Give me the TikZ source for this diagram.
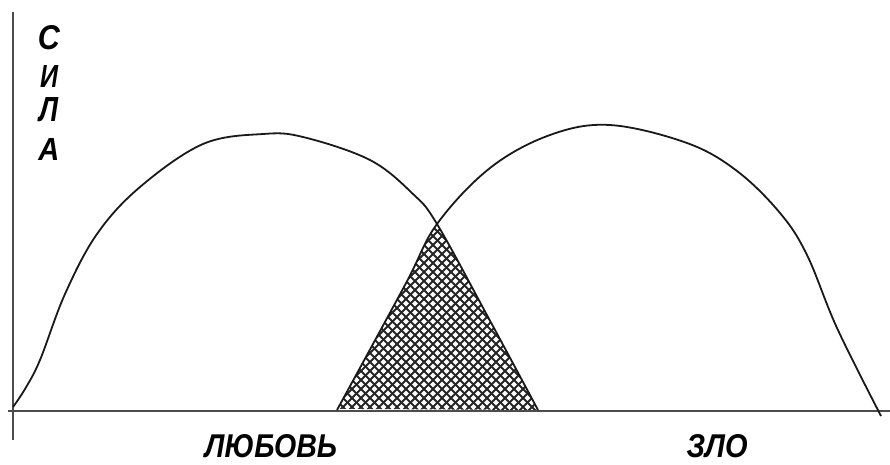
\documentclass[tikz,border=0pt]{standalone}
\usepackage{fontspec}
\setmainfont{Liberation Sans}
\usepackage{graphicx}
\begin{document}
\begin{tikzpicture}[x=1pt,y=-1pt,
  curve/.style={draw=black!90,line width=1.8pt,line join=round},
  axis/.style={draw=black!70,line width=2.2pt},
  hatch/.style={draw=black!85,line width=1.8pt},
  lbl/.style={inner sep=0pt,font=\bfseries\itshape}]
\useasboundingbox (0,0) rectangle (890,464);
\def\leftcurve{(13,407) (25,389) (40,360) (65,294) (97,234) (140,187) (203,144) (263,134) (303,137) (370,160) (413,194) (437,224) (488,317) (538,410)}
\def\rightcurve{(337,410) (405,285) (437,224) (490,168) (550,135) (610,125) (687,143) (737,171) (780,213) (807,255) (837,328) (881,416)}
% hatched overlap
\begin{scope}
  \clip plot[smooth,tension=0.6] coordinates {\leftcurve} -- cycle;
  \clip plot[smooth,tension=0.6] coordinates {\rightcurve} -- cycle;
  \foreach \i in {100,109,...,800} {
    \draw[hatch] (\i,200) -- ++(230,230);
    \draw[hatch] (\i,200) -- ++(-230,230);
  }
\end{scope}
% axes
\coordinate (ytop) at (13,12);
\coordinate (ybot) at (13,440);
\coordinate (xl) at (8,411);
\coordinate (xr) at (890,411);
\draw[axis] (ytop) -- (ybot);
\draw[axis] (xl) -- (xr);
% curves
\draw[curve] plot[smooth,tension=0.6] coordinates {\leftcurve};
\draw[curve] plot[smooth,tension=0.6] coordinates {\rightcurve};
% labels
\node[lbl] (c1) at (49,38) {\resizebox{22pt}{24pt}{С}};
\node[lbl] (c2) at (49,76) {\resizebox{18pt}{22pt}{И}};
\node[lbl] (c3) at (49,110) {\resizebox{19pt}{24pt}{Л}};
\node[lbl] (c4) at (49,149) {\resizebox{21pt}{22pt}{А}};
\node[lbl] (love) at (271,446) {\resizebox{132pt}{23pt}{ЛЮБОВЬ}};
\node[lbl] (evil) at (717,446) {\resizebox{61pt}{23pt}{ЗЛО}};
\end{tikzpicture}
\end{document}
